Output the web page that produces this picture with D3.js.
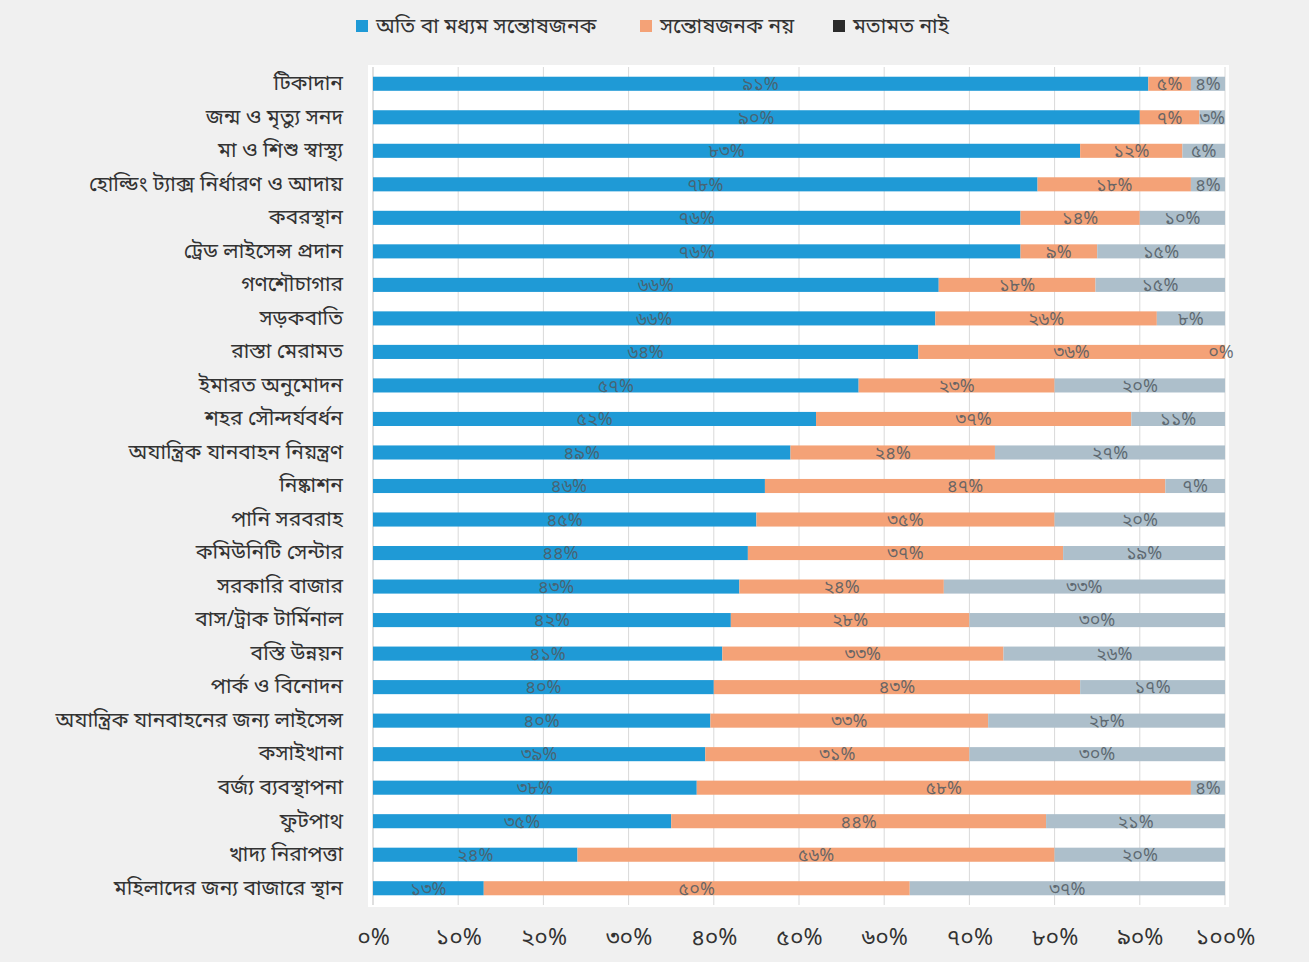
<!DOCTYPE html>
<html>
<head>
<meta charset="utf-8">
<script src="https://cdn.jsdelivr.net/npm/d3@7"></script>
<style>
  body { margin: 0; background: #f0f0f0; }
  svg { display: block; font-family: "Noto Sans Bengali", "Noto Sans", sans-serif; }
</style>
</head>
<body>
<div id="chart"></div>
<script>
// service names, top to bottom
var services = [
  "টিকাদান", "জন্ম ও মৃত্যু সনদ", "মা ও শিশু স্বাস্থ্য", "হোল্ডিং ট্যাক্স নির্ধারণ ও আদায়",
  "কবরস্থান", "ট্রেড লাইসেন্স প্রদান", "গণশৌচাগার", "সড়কবাতি", "রাস্তা মেরামত",
  "ইমারত অনুমোদন", "শহর সৌন্দর্যবর্ধন", "অযান্ত্রিক যানবাহন নিয়ন্ত্রণ", "নিষ্কাশন",
  "পানি সরবরাহ", "কমিউনিটি সেন্টার", "সরকারি বাজার", "বাস/ট্রাক টার্মিনাল", "বস্তি উন্নয়ন",
  "পার্ক ও বিনোদন", "অযান্ত্রিক যানবাহনের জন্য লাইসেন্স", "কসাইখানা", "বর্জ্য ব্যবস্থাপনা",
  "ফুটপাথ", "খাদ্য নিরাপত্তা", "মহিলাদের জন্য বাজারে স্থান"
];

// percent values per series
var satisfied    = [91, 90, 83, 78, 76, 76, 66.4, 66, 64, 57, 52, 49, 46, 45, 44, 43, 42, 41, 40, 39.6, 39, 38, 35, 24, 13];
var notSatisfied = [5, 7, 12, 18, 14, 9, 18.4, 26, 36, 23, 37, 24, 47, 35, 37, 24, 28, 33, 43, 32.6, 31, 58, 44, 56, 50];
var noOpinion    = [4, 3, 5, 4, 10, 15, 15.2, 8, 0, 20, 11, 27, 7, 20, 19, 33, 30, 26, 17, 27.8, 30, 4, 21, 20, 37];

var seriesNames = ["অতি বা মধ্যম সন্তোষজনক", "সন্তোষজনক নয়", "মতামত নাই"];
var xTicks = [0, 10, 20, 30, 40, 50, 60, 70, 80, 90, 100];

var barColors = ["#1f9ad6", "#f4a277", "#adbfcb"];
var legendColors = ["#1f9ad6", "#f4a277", "#2b2b2b"];

var bnDigits = "০১২৩৪৫৬৭৮৯";
function toBn(n) {
  return String(n).replace(/[0-9]/g, function(d) { return bnDigits[+d]; });
}

var width = 1309, height = 962;
var margin = {top: 67, right: 84, bottom: 57, left: 373};

var svg = d3.select("#chart").append("svg")
    .attr("width", width)
    .attr("height", height);

svg.append("rect").attr("width", width).attr("height", height).attr("fill", "#f0f0f0");

var x = d3.scaleLinear().domain([0, 100]).range([margin.left, width - margin.right]);
var y = d3.scaleBand().domain(services).range([margin.top, height - margin.bottom]).paddingInner(0.58).paddingOuter(0.29);

// white plot area
svg.append("rect")
    .attr("x", x(0) - 5).attr("y", margin.top - 2)
    .attr("width", x(100) - x(0) + 9).attr("height", height - margin.bottom - margin.top + 4)
    .attr("fill", "#ffffff");

// gridlines
svg.append("g").selectAll("line")
    .data(xTicks.slice(1))
    .enter().append("line")
    .attr("x1", function(d) { return x(d); })
    .attr("x2", function(d) { return x(d); })
    .attr("y1", margin.top).attr("y2", height - margin.bottom)
    .attr("stroke", "#d9d9d9").attr("stroke-width", 1);

svg.append("line")
    .attr("x1", x(0)).attr("x2", x(0))
    .attr("y1", margin.top).attr("y2", height - margin.bottom)
    .attr("stroke", "#bfbfbf");

// stack the data
var rows = services.map(function(s, i) {
  return {name: s, a: satisfied[i], b: notSatisfied[i], c: noOpinion[i]};
});
var stack = d3.stack().keys(["a", "b", "c"]);
var layers = stack(rows);

var layer = svg.append("g").selectAll("g")
    .data(layers)
    .enter().append("g")
    .attr("fill", function(d, i) { return barColors[i]; });

layer.selectAll("rect")
    .data(function(d) { return d; })
    .enter().append("rect")
    .attr("x", function(d) { return x(d[0]); })
    .attr("y", function(d) { return y(d.data.name); })
    .attr("width", function(d) { return x(d[1]) - x(d[0]); })
    .attr("height", y.bandwidth());

// value labels
layer.selectAll("text")
    .data(function(d) { return d; })
    .enter().append("text")
    .attr("x", function(d) {
      var mid = x((d[0] + d[1]) / 2);
      return Math.min(mid, x(100) - 4);
    })
    .attr("y", function(d) { return y(d.data.name) + y.bandwidth() / 2; })
    .attr("dy", "0.35em")
    .attr("text-anchor", "middle")
    .attr("fill", "#505a62")
    .attr("fill-opacity", 0.85)
    .attr("font-size", 18)
    .text(function(d) { return toBn(Math.round(d[1] - d[0])) + "%"; });

// category labels
svg.append("g").selectAll("text")
    .data(services)
    .enter().append("text")
    .attr("x", margin.left - 30)
    .attr("y", function(d) { return y(d) + y.bandwidth() / 2; })
    .attr("dy", "0.3em")
    .attr("text-anchor", "end")
    .attr("fill", "#333")
    .attr("font-size", 21)
    .text(function(d) { return d; });

// x axis tick labels
var xAxis = d3.axisBottom(x)
    .tickValues(xTicks)
    .tickSize(0)
    .tickPadding(24)
    .tickFormat(function(d) { return toBn(d) + "%"; });

var ax = svg.append("g")
    .attr("transform", "translate(0," + (height - margin.bottom) + ")")
    .call(xAxis);
ax.select(".domain").remove();
ax.selectAll("text").attr("font-size", 23).attr("fill", "#333").attr("font-family", "Noto Sans Bengali, Noto Sans, sans-serif");

// legend
var legendX = [356, 640, 833];
var legend = svg.append("g").selectAll("g")
    .data(seriesNames)
    .enter().append("g")
    .attr("transform", function(d, i) { return "translate(" + legendX[i] + ",20)"; });

legend.append("rect")
    .attr("width", 12).attr("height", 12)
    .attr("fill", function(d, i) { return legendColors[i]; });

legend.append("text")
    .attr("x", 20).attr("y", 6)
    .attr("dy", "0.35em")
    .attr("fill", "#333")
    .attr("font-size", 21)
    .text(function(d) { return d; });
</script>
</body>
</html>
